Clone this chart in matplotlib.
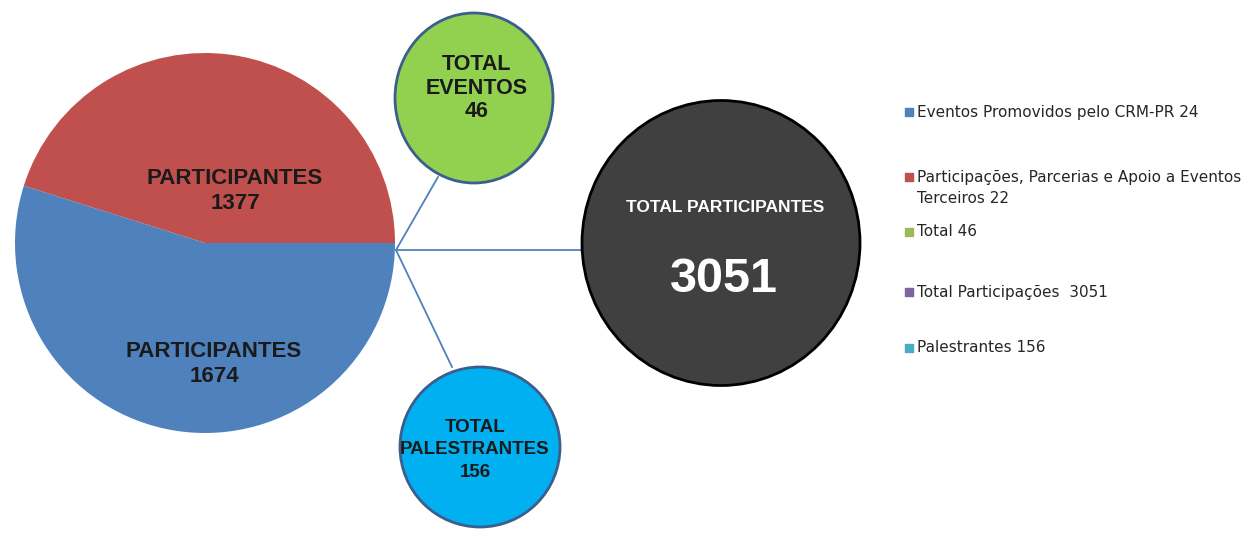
import matplotlib.pyplot as plt
from matplotlib.patches import Ellipse

# data
pie_values = [1377, 1674]
pie_labels = ["PARTICIPANTES\n1377", "PARTICIPANTES\n1674"]
pie_colors = ["#C0504D", "#4F81BD"]

total_eventos = 46
total_palestrantes = 156
total_participantes = 3051

legend_labels = ["Eventos Promovidos pelo CRM-PR 24",
                 "Participações, Parcerias e Apoio a Eventos\nTerceiros 22",
                 "Total 46",
                 "Total Participações  3051",
                 "Palestrantes 156"]
legend_colors = ["#4F81BD", "#C0504D", "#9BBB59", "#8064A2", "#4BACC6"]

bold_font = "Liberation Sans"

fig = plt.figure(figsize=(12.56, 5.33), dpi=100)
ax = fig.add_axes([0, 0, 1, 1])

# pie (pixel coords, y pointing down)
pie_c = (205, 243)
pie_r = 190
ax.pie(pie_values, colors=pie_colors, center=pie_c, radius=pie_r,
       startangle=0, counterclock=False, wedgeprops=dict(linewidth=0))
ax.text(235, 191, pie_labels[0], ha="center", va="center", fontsize=16,
        fontweight="bold", family=bold_font, color="#1a1a1a", linespacing=1.25)
ax.text(214, 364, pie_labels[1], ha="center", va="center", fontsize=16,
        fontweight="bold", family=bold_font, color="#1a1a1a", linespacing=1.25)

# connectors
hub = (396, 250)
ax.plot([hub[0], 438], [hub[1], 177], color="#4F81BD", lw=1.3, zorder=1)
ax.plot([hub[0], 583], [hub[1], 250], color="#4F81BD", lw=1.3, zorder=1)
ax.plot([hub[0], 452], [hub[1], 367], color="#4F81BD", lw=1.3, zorder=1)

# bubbles
ax.add_patch(Ellipse((474, 98), 158, 170, facecolor="#92D050",
                     edgecolor="#3B5E8C", lw=2, zorder=2))
ax.text(477, 88, "TOTAL\nEVENTOS\n%d" % total_eventos, ha="center", va="center",
        fontsize=15.5, fontweight="bold", family=bold_font, color="#1a1a1a",
        linespacing=1.15, zorder=3)

ax.add_patch(Ellipse((480, 447), 160, 160, facecolor="#00B0F0",
                     edgecolor="#3B5E8C", lw=2, zorder=2))
ax.text(475, 450, "TOTAL\nPALESTRANTES\n%d" % total_palestrantes, ha="center",
        va="center", fontsize=13.5, fontweight="bold", family=bold_font,
        color="#1a1a1a", linespacing=1.42, zorder=3)

ax.add_patch(Ellipse((721, 243), 278, 285, facecolor="#404040",
                     edgecolor="#000000", lw=2, zorder=2))
ax.text(725, 208, "TOTAL PARTICIPANTES", ha="center", va="center",
        fontsize=12.5, fontweight="bold", family=bold_font,
        color="white", zorder=3)
ax.text(724, 280, str(total_participantes), ha="center", va="center",
        fontsize=35, fontweight="bold", family=bold_font,
        color="white", zorder=3)

# legend
leg_y = [112, 188, 232, 292, 348]
for i in range(len(legend_labels)):
    y = leg_y[i]
    if "\n" in legend_labels[i]:
        sq_y = y - 11
    else:
        sq_y = y
    ax.scatter([909], [sq_y], marker="s", s=40, color=legend_colors[i], zorder=3)
    ax.text(917, y, legend_labels[i], ha="left", va="center", fontsize=11,
            family="DejaVu Sans", color="#262626", linespacing=1.5)

ax.set_xlim(0, 1256)
ax.set_ylim(533, 0)
ax.set_aspect("auto")
ax.axis("off")

fig.savefig("out.png", dpi=100)
